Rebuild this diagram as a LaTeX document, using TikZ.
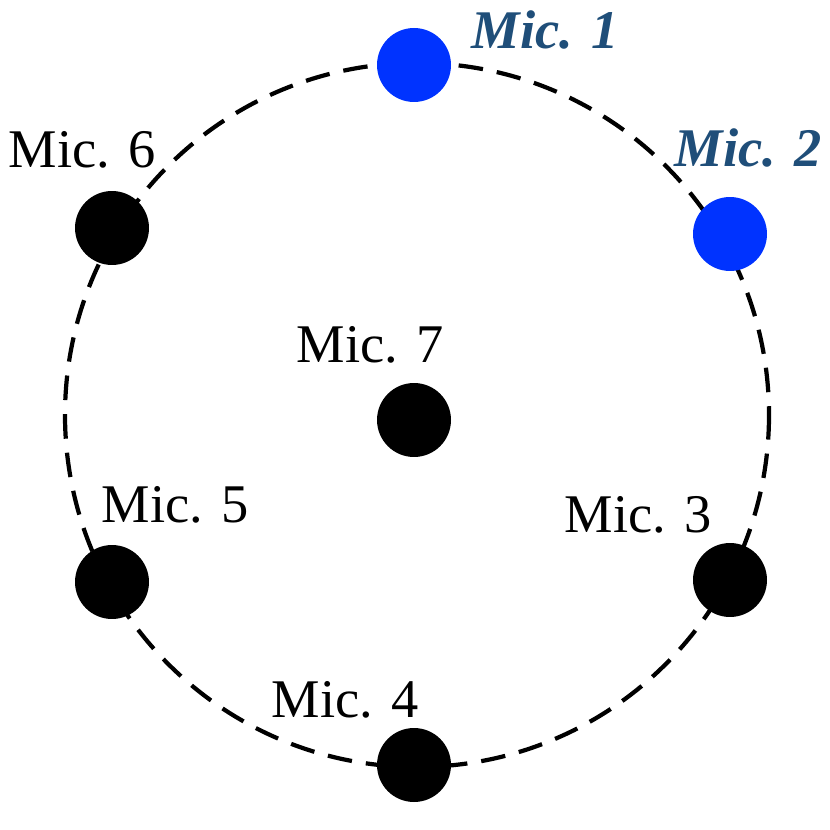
\documentclass[tikz,border=0pt]{standalone}
\usepackage{fontspec}
\setmainfont{Liberation Serif}
\usetikzlibrary{positioning}
\definecolor{micblue}{HTML}{0033FF}
\definecolor{labblue}{HTML}{1F4E79}

\begin{document}
\begin{tikzpicture}[x=0.02cm, y=-0.02cm, every node/.style={font=\fontsize{31}{36}\selectfont}]
\useasboundingbox (0,0) rectangle (830,830);
% array outline
\draw[line width=2.4pt, dash pattern=on 14pt off 8pt] (417,415) circle (352);

% microphones
\tikzset{mic/.style={circle, fill=black, minimum size=1.48cm, inner sep=0pt},
         selmic/.style={mic, fill=micblue},
         sellab/.style={text=labblue, font=\fontsize{31}{36}\selectfont\bfseries\itshape}}
\node[selmic] (m1) at (414,65) {};
\node[selmic] (m2) at (730,234) {};
\node[mic] (m3) at (730,580) {};
\node[mic] (m4) at (414,765) {};
\node[mic] (m5) at (112,582) {};
\node[mic] (m6) at (112,228) {};
\node[mic] (m7) at (414,420) {};

% labels
\node[sellab] (l1) at (545,30) {Mic. 1};
\node[sellab] (l2) at (748,148) {Mic. 2};
\node (l3) at (638,515) {Mic. 3};
\node (l4) at (345,700) {Mic. 4};
\node (l5) at (175,505) {Mic. 5};
\node (l6) at (82,150) {Mic. 6};
\node (l7) at (370,345) {Mic. 7};
\end{tikzpicture}
\end{document}
